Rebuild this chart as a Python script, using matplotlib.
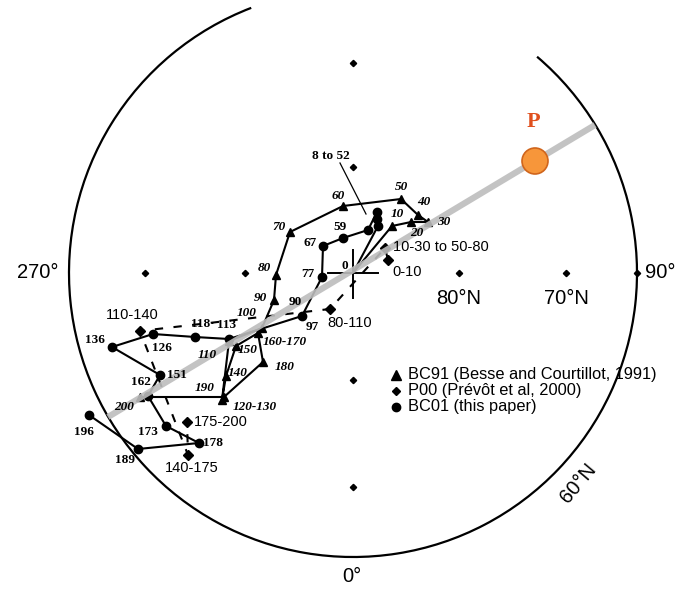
import matplotlib
matplotlib.use("Agg")
import matplotlib.pyplot as plt
from matplotlib.patches import Arc, Circle
import numpy as np

# ---------------- data (projection units, pole at origin, x east, y north) -------------
# BC91 (Besse and Courtillot, 1991) – triangles, italic labels
bc91_labels = ["", "10", "20", "30", "40", "50", "60", "70", "80", "90", "100", "110",
               "120-130", "140", "150", "160-170", "180", "190", "200"]
bc91_x = [0, 39, 58, 75, 65, 48, -10, -63, -77, -79, -91, -124, -131, -127, -117, -95, -90, -129, -213]
bc91_y = [0, 47, 51, 51, 58, 74, 67, 41, -2, -27, -55, -68, -127, -103, -73, -60, -89, -124, -124]
bc91_lab_x = [0, 44, 64, 91, 71, 48, -15, -74, -89, -93, -106, -146, -98, -115, -105, -68, -68, -148, -229]
bc91_lab_y = [0, 59, 40, 51, 71, 86, 77, 46, 5, -25, -40, -82, -134, -100, -77, -69, -94, -115, -134]

# BC01 (this paper) – dots, upright labels
bc01_x = [0, 25, 24, 24, 15, -10, -30, -31, -51, -124, -158, -200, -241, -193, -205, -187, -154, -215, -264]
bc01_y = [0, 47, 54, 61, 43, 35, 27, -4, -43, -66, -64, -61, -74, -102, -123, -153, -170, -176, -142]
bc01_labels = ["0", "59", "67", "77", "90", "97", "113", "118·", "126", "136", "151",
               "162", "173", "178", "189", "196"]
bc01_lab_x = [-8, -13, -43, -45, -58, -41, -126, -150, -191, -258, -176, -212, -205, -140, -228, -269]
bc01_lab_y = [7, 46, 30, -1, -29, -54, -52, -51, -75, -67, -102, -109, -159, -170, -187, -159]

# P00 (Prévôt et al, 2000) – diamonds, dashed
p00_labels = ["0-10", "10-30 to 50-80", "80-110", "110-140", "140-175", "175-200"]
p00_x = [35, 32, -23, -213, -165, -166]
p00_y = [13, 25, -36, -58, -182, -149]
p00_lab_x = [39, 40, -3, -221, -161, -159]
p00_lab_y = [1, 26, -50, -42, -195, -149]
p00_lab_ha = ["left", "left", "center", "center", "center", "left"]

# grid dots, circle, great circle, pole P
grid_x = [0, 0, 0, 0, -108, -208, 106, 213, 284]
grid_y = [106, 210, -107, -214, 0, 0, 0, 0, 0]
circle_r = 284
arc_gap = (49.6, 111.0)
gc_x = [-245, 242]
gc_y = [-144, 148]
pole_x, pole_y, pole_r = 182, 112, 13

# ---------------- figure ----------------
fig = plt.figure(figsize=(6.79, 5.90), dpi=100)
ax = fig.add_axes([0, 0, 1, 1])
ax.set_xlim(-353, 326)
ax.set_ylim(-317, 273)
ax.set_aspect("equal")
ax.axis("off")

serif = ["Liberation Serif", "DejaVu Serif"]
sans = ["Liberation Sans", "DejaVu Sans"]

# outer circle (with gap at the top)
ax.add_patch(Arc((0, 0), 2 * circle_r, 2 * circle_r, theta1=arc_gap[1], theta2=arc_gap[0] + 360,
                 color="black", lw=1.6, zorder=2))

# grid dots
ax.plot(grid_x, grid_y, ls="none", marker="D", ms=3.2, color="black", zorder=2)

# crosshair at the pole
ax.plot([-25, 25], [0, 0], color="black", lw=1.4, zorder=2)
ax.plot([0, 0], [-25, 23], color="black", lw=1.4, zorder=2)

# BC91 path
ax.plot(bc91_x, bc91_y, color="black", lw=1.5, zorder=3)
ax.plot(bc91_x[1:], bc91_y[1:], ls="none", marker="^", ms=6, color="black", zorder=4)
for t, x, y in zip(bc91_labels, bc91_lab_x, bc91_lab_y):
    if t:
        ax.text(x, y, t, fontsize=9.5, family=serif, style="italic", fontweight="bold",
                ha="center", va="center", zorder=6)

# BC01 path
ax.plot(bc01_x, bc01_y, color="black", lw=1.5, zorder=3)
ax.plot(bc01_x[1:], bc01_y[1:], ls="none", marker="o", ms=6, color="black", zorder=4)
for t, x, y in zip(bc01_labels, bc01_lab_x, bc01_lab_y):
    ax.text(x, y, t, fontsize=9.5, family=serif, fontweight="bold",
            ha="center", va="center", zorder=6)

# P00 path
ax.plot(p00_x, p00_y, color="black", lw=1.5, ls=(0, (4, 5)), zorder=3)
ax.plot(p00_x, p00_y, ls="none", marker="D", ms=5, color="black", zorder=4)
for t, x, y, ha in zip(p00_labels, p00_lab_x, p00_lab_y, p00_lab_ha):
    ax.text(x, y, t, fontsize=10.5, family=sans, ha=ha, va="center", zorder=6)

# "8 to 52" label with leader line
ax.plot([-13, 13], [110, 59], color="black", lw=0.9, zorder=3)
ax.text(-22, 117, "8 to 52", fontsize=9.5, family=serif, fontweight="bold",
        ha="center", va="center", zorder=6)

# great circle through pole P
ax.plot(gc_x, gc_y, color="#bdbdbd", lw=4.5, alpha=0.9, solid_capstyle="butt", zorder=5)
ax.add_patch(Circle((pole_x, pole_y), pole_r, facecolor="#f7963a", edgecolor="#d0651c",
                    lw=1.2, zorder=7))
ax.text(pole_x - 2, pole_y + 39, "P", fontsize=16, family=serif, fontweight="bold",
        color="#e0501e", ha="center", va="center", zorder=7)

# axis labels
big = dict(fontsize=14.5, family=sans, ha="center", va="center", zorder=6)
ax.text(-315, 1, "270°", **big)
ax.text(307, 1, "90°", **big)
ax.text(-1, -304, "0°", **big)
ax.text(106, -25, "80°N", **big)
ax.text(213, -25, "70°N", **big)
ax.text(225, -210, "60°N", rotation=50, rotation_mode="anchor", **big)

# legend
leg_y = [-102, -118, -134]
leg_marker = ["^", "D", "o"]
leg_ms = [6.5, 4.5, 6]
leg_text = ["BC91 (Besse and Courtillot, 1991)", "P00 (Prévôt et al, 2000)", "BC01 (this paper)"]
for yy, m, ms, t in zip(leg_y, leg_marker, leg_ms, leg_text):
    ax.plot([43], [yy], marker=m, ms=ms, color="black", ls="none", zorder=6)
    ax.text(55, yy, t, fontsize=11.8, family=sans, ha="left", va="center", zorder=6)

fig.savefig("out.png", dpi=100)
